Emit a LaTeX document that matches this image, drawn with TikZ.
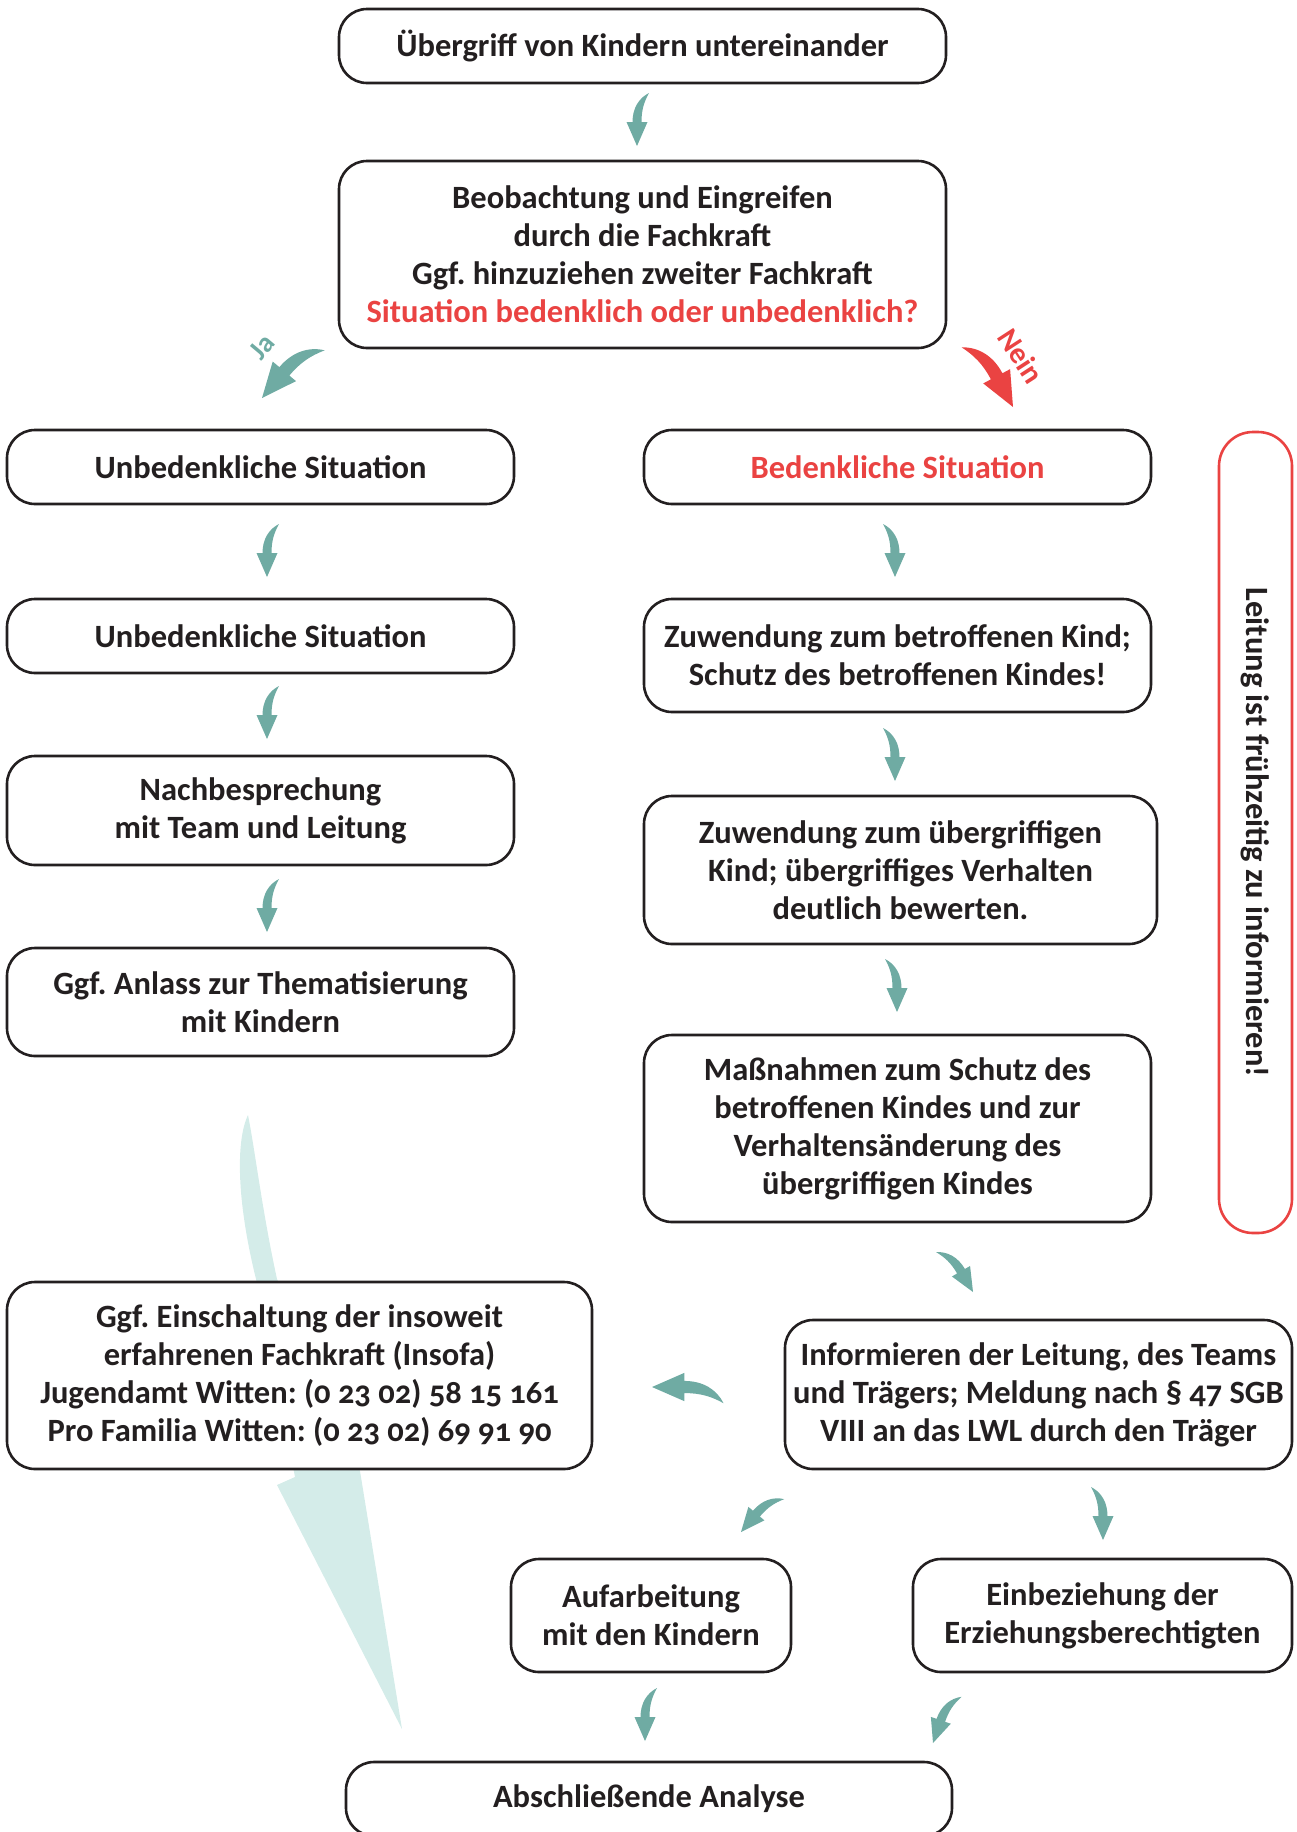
\documentclass[tikz,border=0pt]{standalone}
\usepackage{fontspec}
\setmainfont{Carlito}[Numbers=OldStyle]
\frenchspacing
\definecolor{tealc}{RGB}{111,171,163}
\definecolor{palec}{RGB}{212,236,233}
\definecolor{redc}{RGB}{234,67,66}
\definecolor{ink}{RGB}{35,31,32}
\tikzset{
  curv/.pic={\fill (0pt,0pt) -- (-10.5pt,24pt) -- (-4.5pt,24pt) .. controls (-4.5pt,38pt) and (2pt,48pt) .. (12pt,53pt) .. controls (7pt,44pt) and (4.5pt,36pt) .. (4.5pt,24pt) -- (10.5pt,24pt) -- cycle;},
  box/.style={draw=ink, line width=2.6pt, rounded corners=28pt, fill=white, align=center, inner sep=0pt, text=ink, font=\fontsize{32.5}{38}\selectfont\bfseries\frenchspacing},
  tarr/.style={color=tealc},
}
\begin{document}
\begin{tikzpicture}[x=1pt,y=-1pt]
\useasboundingbox (0,0) rectangle (1297,1832);
% pale big arrow (background)
\fill[palec] (248,1115) .. controls (236,1140) and (236,1200) .. (257,1283) -- (295,1477) -- (277,1485) -- (402,1729) -- (360,1471) -- (277,1279) .. controls (262,1210) and (255,1150) .. (248,1115) -- cycle;

\node[box, minimum width=607pt, minimum height=74pt] (b1) at (642.5,46) {Übergriff von Kindern untereinander};
\node[box, minimum width=607pt, minimum height=187pt] (b2) at (642.5,254.5) {Beobachtung und Eingreifen\\durch die Fachkraft\\Ggf. hinzuziehen zweiter Fachkraft\\\textcolor{redc}{Situation bedenklich oder unbedenklich?}};

\node[box, minimum width=507pt, minimum height=74pt] (l1) at (260.5,467) {Unbedenkliche Situation};
\node[box, minimum width=507pt, minimum height=74pt] (l2) at (260.5,636) {Unbedenkliche Situation};
\node[box, minimum width=507pt, minimum height=109pt] (l3) at (260.5,810.5) {Nachbesprechung\\mit Team und Leitung};
\node[box, minimum width=507pt, minimum height=108pt] (l4) at (260.5,1002) {Ggf. Anlass zur Thematisierung\\mit Kindern};

\node[box, minimum width=507pt, minimum height=74pt, text=redc] (r1) at (897.5,467) {Bedenkliche Situation};
\node[box, minimum width=507pt, minimum height=113pt] (r2) at (897.5,655.5) {Zuwendung zum betroffenen Kind;\\Schutz des betroffenen Kindes!};
\node[box, minimum width=513pt, minimum height=148pt] (r3) at (900.5,870) {Zuwendung zum übergriffigen\\Kind; übergriffiges Verhalten\\deutlich bewerten.};
\node[box, minimum width=507pt, minimum height=187pt] (r4) at (897.5,1128.5) {Maßnahmen zum Schutz des\\betroffenen Kindes und zur\\Verhaltensänderung des\\übergriffigen Kindes};
\node[box, minimum width=507pt, minimum height=149pt] (r5) at (1038.5,1394.5) {Informieren der Leitung, des Teams\\und Trägers; Meldung nach § 47 SGB\\VIII an das LWL durch den Träger};
\node[box, minimum width=585pt, minimum height=187pt] (ins) at (299.5,1375.5) {Ggf. Einschaltung der insoweit\\erfahrenen Fachkraft (Insofa)\\Jugendamt Witten: (0 23 02) 58 15 161\\Pro Familia Witten: (0 23 02) 69 91 90};
\node[box, minimum width=280pt, minimum height=113pt] (auf) at (651,1615.5) {Aufarbeitung\\mit den Kindern};
\node[box, minimum width=379pt, minimum height=113pt] (ein) at (1102.5,1615.5) {Einbeziehung der\\Erziehungsberechtigten};
\node[box, minimum width=606pt, minimum height=74pt] (fin) at (649,1799) {Abschließende Analyse};

\node[box, draw=redc, rounded corners=34pt, rotate=-90, minimum width=801pt, minimum height=73pt] (lt) at (1255.5,832.5) {Leitung ist frühzeitig zu informieren!};

% small curved arrows
\pic[tarr] at (637,146) {curv};
\pic[tarr] at (267,577) {curv};
\pic[tarr] at (267,739) {curv};
\pic[tarr] at (267,932) {curv};
\pic[tarr, xscale=-1] at (895,577) {curv};
\pic[tarr, xscale=-1] at (895,781) {curv};
\pic[tarr, xscale=-1] at (897,1012) {curv};
\pic[tarr, rotate=30, xscale=-1] at (973,1292) {curv};
\pic[tarr, rotate=-90, scale=1.35] at (652,1387) {curv};
\pic[tarr, rotate=-40] at (741,1532) {curv};
\pic[tarr, xscale=-1] at (1103,1540) {curv};
\pic[tarr] at (645,1741) {curv};
\pic[tarr, rotate=-19] at (933,1743) {curv};
% Ja / Nein
\pic[tarr, rotate=-40, scale=1.45] at (262,398) {curv};
\pic[color=redc, rotate=28, xscale=-1, scale=1.45] at (1013,407) {curv};
\node[rotate=50, text=tealc, inner sep=0pt, font=\fontsize{28}{28}\selectfont\bfseries] (ja) at (262,347) {Ja};
\node[rotate=-57, text=redc, inner sep=0pt, font=\fontsize{30}{30}\selectfont\bfseries] (nein) at (1021,356) {Nein};
\end{tikzpicture}
\end{document}
